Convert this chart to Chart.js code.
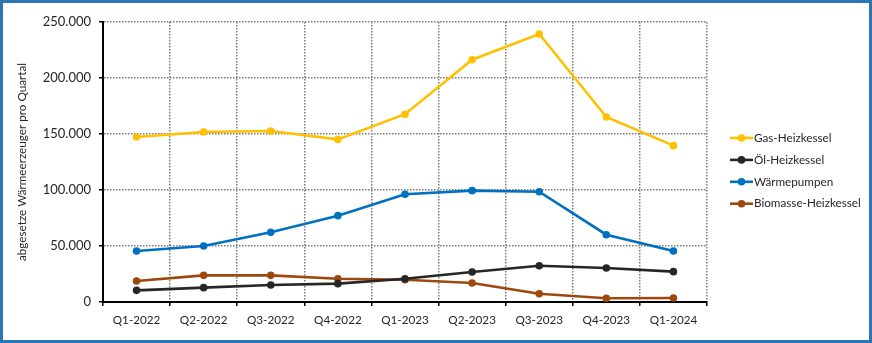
<!DOCTYPE html>
<html>
<head>
<meta charset="utf-8">
<script src="https://cdn.jsdelivr.net/npm/chart.js@4/dist/chart.umd.min.js"></script>
<style>
  html, body { margin: 0; padding: 0; background: #fff; }
  #chart { display: block; }
</style>
</head>
<body>
<canvas id="chart" width="872" height="343"></canvas>
<script>
// Quartale
const quarters = ['Q1-2022', 'Q2-2022', 'Q3-2022', 'Q4-2022', 'Q1-2023', 'Q2-2023', 'Q3-2023', 'Q4-2023', 'Q1-2024'];

// abgesetzte Wärmeerzeuger je Quartal (aus der Grafik geschätzt)
const gasHeizkessel = [147300, 151800, 152700, 145200, 167700, 216300, 239300, 165200, 139600];
const oelHeizkessel = [10400, 12800, 15200, 16400, 20800, 26800, 32400, 30400, 27100];
const waermepumpen = [45500, 50000, 62200, 77100, 96200, 99400, 98500, 60100, 45500];
const biomasseHeizkessel = [18800, 23800, 23800, 20800, 19900, 17000, 7400, 3300, 3600];

const yTicks = [0, 50000, 100000, 150000, 200000, 250000];
const yTitle = 'abgesetze Wärmeerzeuger pro Quartal';

const fontFamily = 'Lato, "Open Sans", sans-serif';
const textColor = '#262626';

function fmt(v) {
    return String(v).replace(/\B(?=(\d{3})+(?!\d))/g, '.');
}

function series(label, data, color) {
    return {
        label: label,
        data: data,
        borderColor: color,
        backgroundColor: color,
        borderWidth: 2.6,
        pointRadius: 3.8,
        pointHoverRadius: 3.8,
        pointBorderWidth: 0,
        tension: 0
    };
}

const datasets = [
    series('Gas-Heizkessel', gasHeizkessel, '#FFC000'),
    series('Öl-Heizkessel', oelHeizkessel, '#262626'),
    series('Wärmepumpen', waermepumpen, '#0070C0'),
    series('Biomasse-Heizkessel', biomasseHeizkessel, '#9E480E')
];

// Rahmen um die ganze Grafik
const framePlugin = {
    id: 'frame',
    afterDraw: function (chart) {
        const ctx = chart.ctx;
        ctx.save();
        ctx.strokeStyle = '#2E75B6';
        ctx.lineWidth = 3;
        ctx.strokeRect(1.5, 1.5, chart.width - 3, chart.height - 3);
        ctx.restore();
    }
};

// Legende rechts, Linie mit Punkt wie in Excel
const legendPlugin = {
    id: 'sideLegend',
    afterDraw: function (chart) {
        const ctx = chart.ctx;
        const x0 = 730, lineLen = 23, y0 = 138, step = 21.9;
        ctx.save();
        ctx.font = '11.7px ' + fontFamily;
        ctx.textBaseline = 'middle';
        ctx.textAlign = 'left';
        chart.data.datasets.forEach(function (ds, i) {
            const y = y0 + i * step;
            ctx.strokeStyle = ds.borderColor;
            ctx.lineWidth = 2.6;
            ctx.beginPath();
            ctx.moveTo(x0, y);
            ctx.lineTo(x0 + lineLen, y);
            ctx.stroke();
            ctx.fillStyle = ds.borderColor;
            ctx.beginPath();
            ctx.arc(x0 + lineLen / 2, y, 3.8, 0, Math.PI * 2);
            ctx.fill();
            ctx.fillStyle = textColor;
            ctx.fillText(ds.label, x0 + lineLen + 1, y);
        });
        ctx.restore();
    }
};

new Chart(document.getElementById('chart'), {
    type: 'line',
    data: {
        labels: quarters,
        datasets: datasets
    },
    plugins: [legendPlugin, framePlugin],
    options: {
        responsive: false,
        animation: false,
        layout: {
            padding: { top: 22, right: 165, bottom: 0, left: 0 }
        },
        plugins: {
            legend: { display: false },
            tooltip: { enabled: false }
        },
        scales: {
            x: {
                offset: true,
                afterFit: function (scale) { scale.height = 41; },
                grid: {
                    offset: true,
                    color: '#7a7a7a',
                    lineWidth: 1.5,
                    tickColor: '#000',
                    tickLength: 4,
                    tickWidth: 1.5
                },
                border: { display: true, color: '#000', width: 2, dash: [1.5, 1.5] },
                ticks: {
                    color: textColor,
                    padding: 7,
                    maxRotation: 0,
                    font: { family: fontFamily, size: 11.7 }
                }
            },
            y: {
                min: 0,
                max: 250000,
                afterFit: function (scale) { scale.width = 103; },
                afterBuildTicks: function (scale) {
                    scale.ticks = yTicks.map(function (v) { return { value: v }; });
                },
                grid: {
                    color: '#7a7a7a',
                    lineWidth: 1.5,
                    tickColor: '#000',
                    tickLength: 4,
                    tickWidth: 1.5
                },
                border: { display: true, color: '#000', width: 2, dash: [1.5, 1.5] },
                ticks: {
                    color: textColor,
                    padding: 8,
                    font: { family: fontFamily, size: 13 },
                    callback: function (v) { return fmt(v); }
                },
                title: {
                    display: true,
                    text: yTitle,
                    color: textColor,
                    padding: { top: 15, bottom: 0 },
                    font: { family: fontFamily, size: 11.7 }
                }
            }
        }
    }
});
</script>
</body>
</html>
